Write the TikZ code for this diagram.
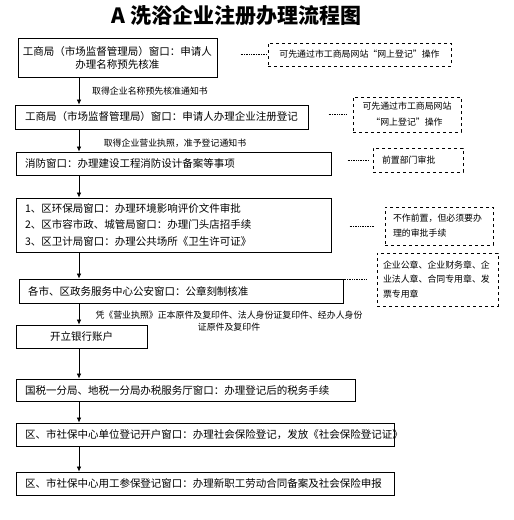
\documentclass[tikz,border=0pt]{standalone}
\usepackage{fontspec}
\setmainfont{Noto Sans CJK SC}
\usetikzlibrary{arrows.meta}

\newcommand{\stagefont}{\fontsize{10.5}{16.5}\selectfont}
\newcommand{\remarkfont}{\fontsize{8.9}{15}\selectfont}

\tikzset{
  stage/.style={draw, line width=0.8pt, inner xsep=9pt, inner ysep=2pt, font=\stagefont, align=left},
  remark/.style={draw, dashed, line width=0.8pt, inner xsep=8pt, inner ysep=2pt, font=\remarkfont, align=left},
  hint/.style={font=\remarkfont, align=center, inner sep=0pt},
  flow/.style={-{Latex[length=5pt,width=4.5pt]}, line width=0.7pt},
  link/.style={densely dotted, line width=0.7pt}
}

\begin{document}
\begin{tikzpicture}[x=1pt,y=-1pt]
\useasboundingbox (0,0) rectangle (514,520);

% title
\node[font=\fontsize{21}{24}\selectfont\bfseries] (title) at (236.5,16) {A 洗浴企业注册办理流程图};

% main steps
\node[stage, align=center, text width=191pt, inner xsep=4pt, minimum height=39pt,
      font=\fontsize{10.5}{13}\selectfont] (b1) at (117.5,57.5)
  {工商局（市场监督管理局）窗口：申请人\\办理名称预先核准};
\node[stage, align=center, text width=277pt, inner xsep=8pt, minimum height=24pt] (b2) at (161.5,117)
  {工商局（市场监督管理局）窗口：申请人办理企业注册登记};
\node[stage, text width=297pt, minimum height=23pt] (b3) at (173.5,163.5)
  {消防窗口：办理建设工程消防设计备案等事项};
\node[stage, text width=297pt, minimum height=54pt] (b4) at (173.5,225)
  {1、区环保局窗口：办理环境影响评价文件审批\\
   2、区市容市政、城管局窗口：办理门头店招手续\\
   3、区卫计局窗口：办理公共场所《卫生许可证》};
\node[stage, text width=306pt, minimum height=24pt] (b5) at (181,291)
  {各市、区政务服务中心公安窗口：公章刻制核准};
\node[stage, align=center, text width=113pt, minimum height=23pt] (b6) at (81.5,336.5)
  {开立银行账户};
\node[stage, text width=321pt, minimum height=22pt] (b7) at (185.5,390)
  {国税一分局、地税一分局办税服务厅窗口：办理登记后的税务手续};
\node[stage, text width=360pt, minimum height=23pt] (b8) at (205,434.5)
  {区、市社保中心单位登记开户窗口：办理社会保险登记，发放《社会保险登记证》};
\node[stage, text width=360pt, minimum height=23pt] (b9) at (205,483.5)
  {区、市社保中心用工参保登记窗口：办理新职工劳动合同备案及社会保险申报};

% side remarks
\node[remark, align=center, minimum width=183pt, minimum height=23pt] (n1) at (359.5,54.5)
  {可先通过市工商局网站“网上登记”操作};
\node[remark, align=center, minimum width=108pt, minimum height=35pt,
      font=\fontsize{8.9}{16}\selectfont] (n2) at (407,114.5)
  {可先通过市工商局网站\\“网上登记”操作};
\node[remark, text width=72pt, inner xsep=9pt, minimum height=24pt] (n3) at (418,160)
  {前置部门审批};
\node[remark, text width=92pt, minimum height=38pt] (n4) at (439,226)
  {不作前置，但必须要办\\理的审批手续};
\node[remark, text width=109pt, inner xsep=6pt, minimum height=53pt,
      font=\fontsize{8.9}{14.5}\selectfont] (n5) at (437.5,279.5)
  {企业公章、企业财务章、企\\业法人章、合同专用章、发\\票专用章};

% texts on the arrows
\node[hint] (l1) at (150,91) {取得企业名称预先核准通知书};
\node[hint] (l2) at (175,143) {取得企业营业执照，准予登记通知书};
\node[hint, font=\fontsize{8.9}{12}\selectfont] (l5) at (229,321)
  {凭《营业执照》正本原件及复印件、法人身份证复印件、经办人身份\\证原件及复印件};

% arrows down the left
\coordinate (spine) at (79,0);
\foreach \a/\b in {b1/b2,b2/b3,b3/b4,b4/b5,b5/b6,b6/b7,b7/b8,b8/b9}
  \draw[flow] (\a.south -| spine) -- (\b.north -| spine);

% dotted leaders
\draw[link] ([xshift=-27pt]n1.west) -- (n1.west);
\draw[link] ([xshift=-24pt]n2.west) -- ([xshift=-6pt]n2.west);
\draw[link] ([xshift=-25pt]n3.west) -- ([xshift=-3pt]n3.west);
\draw[link] ([xshift=-35pt]n4.west) -- ([xshift=-10pt]n4.west);
\draw[link] ([xshift=-33pt]n5.west) -- ([xshift=-10pt]n5.west);
\end{tikzpicture}
\end{document}
